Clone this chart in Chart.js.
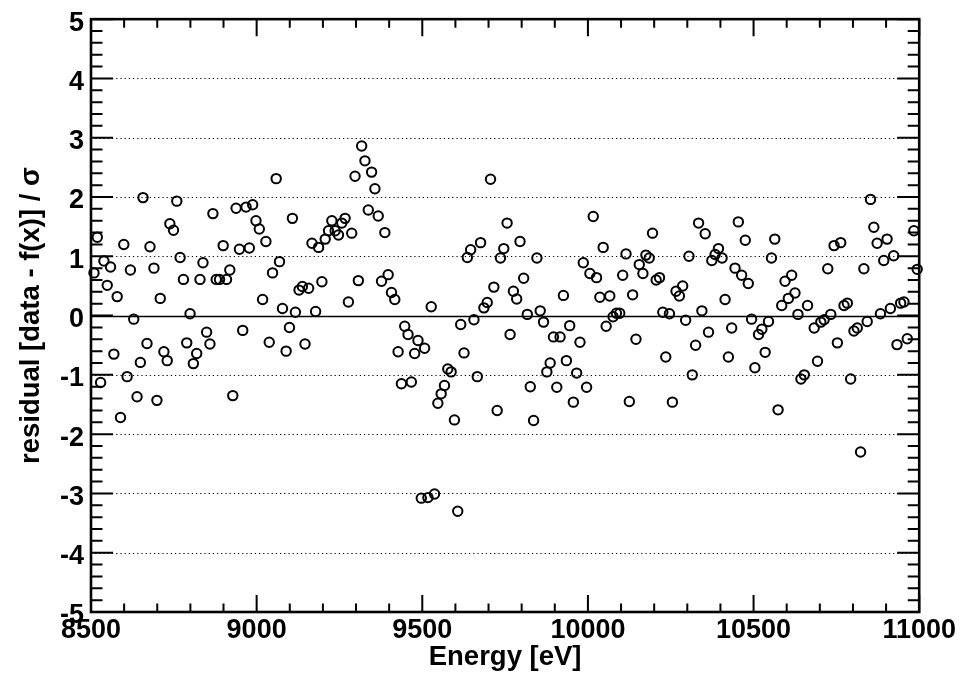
<!DOCTYPE html>
<html>
<head>
<meta charset="utf-8">
<script src="https://cdn.jsdelivr.net/npm/chart.js@4/dist/chart.umd.min.js"></script>
<style>
  html, body { margin: 0; padding: 0; background: #fff; }
  #wrap { width: 961px; height: 674px; position: relative; }
</style>
</head>
<body>
<div id="wrap"><canvas id="c" width="961" height="674"></canvas></div>
<script>
// ---- data ----
const energies = [
  8509, 8519, 8529, 8539, 8549, 8559, 8569, 8579, 8589, 8599,
  8609, 8619, 8629, 8639, 8649, 8657, 8669, 8678, 8690, 8699,
  8709, 8720, 8730, 8738, 8749, 8759, 8769, 8779, 8789, 8799,
  8809, 8819, 8829, 8838, 8849, 8859, 8868, 8878, 8888, 8899,
  8909, 8919, 8928, 8938, 8948, 8958, 8968, 8978, 8988, 8998,
  9008, 9018, 9028, 9038, 9048, 9059, 9069, 9078, 9089, 9099,
  9108, 9117, 9128, 9138, 9146, 9157, 9167, 9178, 9187, 9197,
  9207, 9217, 9227, 9237, 9247, 9257, 9267, 9277, 9287, 9297,
  9307, 9317, 9327, 9337, 9347, 9357, 9367, 9377, 9387, 9397,
  9407, 9417, 9427, 9437, 9447, 9457, 9467, 9477, 9487, 9497,
  9507, 9517, 9527, 9537, 9547, 9557, 9567, 9577, 9587, 9597,
  9607, 9616, 9626, 9636, 9646, 9656, 9666, 9676, 9686, 9696,
  9706, 9716, 9726, 9736, 9746, 9756, 9765, 9775, 9785, 9795,
  9806, 9817, 9826, 9836, 9846, 9856, 9866, 9876, 9886, 9896,
  9906, 9916, 9926, 9935, 9945, 9956, 9966, 9976, 9986, 9996,
  10006, 10016, 10026, 10036, 10046, 10055, 10066, 10076, 10086, 10096,
  10105, 10115, 10125, 10135, 10145, 10155, 10166, 10175, 10185, 10195,
  10206, 10216, 10226, 10235, 10246, 10255, 10266, 10276, 10286, 10295,
  10305, 10315, 10325, 10334, 10344, 10354, 10364, 10374, 10384, 10394,
  10405, 10414, 10424, 10434, 10444, 10454, 10464, 10475, 10484, 10494,
  10504, 10515, 10525, 10535, 10545, 10554, 10564, 10574, 10585, 10595,
  10605, 10615, 10625, 10634, 10643, 10653, 10663, 10683, 10693, 10703,
  10713, 10724, 10733, 10743, 10753, 10763, 10773, 10783, 10793, 10803,
  10813, 10823, 10833, 10843, 10853, 10863, 10873, 10883, 10893, 10903,
  10913, 10923, 10933, 10944, 10954, 10964, 10984, 10994
];
const residuals = [
  0.72, 1.32, -1.13, 0.92, 0.51, 0.82, -0.65, 0.32, -1.72, 1.20,
  -1.03, 0.77, -0.06, -1.37, -0.79, 1.99, -0.47, 1.16, 0.80, -1.43,
  0.29, -0.61, -0.76, 1.55, 1.44, 1.93, 0.98, 0.61, -0.46, 0.03,
  -0.81, -0.64, 0.61, 0.89, -0.28, -0.48, 1.72, 0.61, 0.61, 1.18,
  0.61, 0.77, -1.35, 1.81, 1.12, -0.25, 1.83, 1.14, 1.87, 1.60,
  1.46, 0.27, 1.25, -0.45, 0.72, 2.31, 0.91, 0.12, -0.60, -0.20,
  1.64, 0.055, 0.43, 0.49, -0.48, 0.46, 1.22, 0.07, 1.15, 0.57,
  1.29, 1.43, 1.60, 1.43, 1.36, 1.56, 1.64, 0.23, 1.39, 2.35,
  0.59, 2.86, 2.61, 1.78, 2.42, 2.14, 1.68, 0.58, 1.40, 0.69,
  0.39, 0.27, -0.61, -1.15, -0.18, -0.32, -1.12, -0.64, -0.42, -3.08,
  -0.55, -3.07, 0.15, -3.01, -1.48, -1.32, -1.18, -0.90, -0.95, -1.76,
  -3.30, -0.15, -0.63, 0.98, 1.11, -0.07, -1.03, 1.23, 0.13, 0.22,
  2.30, 0.48, -1.60, 0.97, 1.13, 1.56, -0.32, 0.41, 0.28, 1.25,
  0.63, 0.02, -1.20, -1.77, 0.97, 0.08, -0.11, -0.95, -0.80, -0.36,
  -1.21, -0.36, 0.34, -0.76, -0.17, -1.46, -0.97, -0.45, 0.89, -1.21,
  0.71, 1.67, 0.64, 0.31, 1.15, -0.18, 0.33, -0.02, 0.04, 0.04,
  0.68, 1.04, -1.45, 0.35, -0.40, 0.86, 0.71, 1.02, 0.97, 1.39,
  0.60, 0.64, 0.055, -0.70, 0.03, -1.46, 0.41, 0.33, 0.50, -0.08,
  1.00, -1.00, -0.50, 1.56, 0.08, 1.38, -0.28, 0.93, 1.03, 1.13,
  0.97, 0.27, -0.70, -0.21, 0.80, 1.58, 0.68, 1.27, 0.54, -0.06,
  -0.88, -0.32, -0.23, -0.62, -0.10, 0.97, 1.29, -1.59, 0.17, 0.58,
  0.29, 0.68, 0.38, 0.02, -1.07, -1.00, 0.17, -0.21, -0.77, -0.11,
  -0.07, 0.79, 0.02, 1.18, -0.46, 1.23, 0.17, 0.21, -1.07, -0.26,
  -0.21, -2.30, 0.79, -0.10, 1.96, 1.49, 1.22, 0.03, 0.93, 1.29,
  0.12, 1.01, -0.49, 0.21, 0.23, -0.39, 1.43, 0.78
];
const xRange = [8500, 11000];
const yRange = [-5, 5];
const xMajorStep = 500, xMinorStep = 100;
const yMajorStep = 1, yMinorStep = 0.2;
const xTitle = 'Energy [eV]';
const yTitle = 'residual [data - f(x)] / σ';

const points = energies.map((e, i) => ({ x: e, y: residuals[i] }));
const FONT = '"Liberation Sans", Arial, Helvetica, sans-serif';

const rootFrame = {
  id: 'rootFrame',
  beforeDatasetsDraw(chart) {
    const { ctx, chartArea: a, scales: { x, y } } = chart;
    ctx.save();
    ctx.strokeStyle = '#000';
    ctx.lineWidth = 1.1;
    ctx.setLineDash([1.2, 3]);
    for (let v = yRange[0] + yMajorStep; v < yRange[1]; v += yMajorStep) {
      if (Math.abs(v) < 1e-9) continue;
      const py = Math.round(y.getPixelForValue(v)) + 0.5;
      ctx.beginPath(); ctx.moveTo(a.left, py); ctx.lineTo(a.right, py); ctx.stroke();
    }
    ctx.setLineDash([]);
    ctx.lineWidth = 1.3;
    const p0 = Math.round(y.getPixelForValue(0)) + 0.5;
    ctx.beginPath(); ctx.moveTo(a.left, p0); ctx.lineTo(a.right, p0); ctx.stroke();
    ctx.restore();
  },
  afterDraw(chart) {
    const { ctx, chartArea: a, scales: { x, y } } = chart;
    ctx.save();
    ctx.strokeStyle = '#000';
    ctx.lineWidth = 2;
    for (let v = xRange[0]; v <= xRange[1] + 1e-6; v += xMinorStep) {
      const px = x.getPixelForValue(v);
      const major = Math.abs((v - xRange[0]) % xMajorStep) < 1e-6;
      const len = major ? 17 : 8.5;
      ctx.beginPath();
      ctx.moveTo(px, a.bottom); ctx.lineTo(px, a.bottom - len);
      ctx.moveTo(px, a.top); ctx.lineTo(px, a.top + len);
      ctx.stroke();
    }
    for (let k = 0; k <= Math.round((yRange[1] - yRange[0]) / yMinorStep); k++) {
      const v = yRange[0] + k * yMinorStep;
      const py = y.getPixelForValue(v);
      const major = k % Math.round(yMajorStep / yMinorStep) === 0;
      const len = major ? 22 : 11.5;
      ctx.beginPath();
      ctx.moveTo(a.left, py); ctx.lineTo(a.left + len, py);
      ctx.moveTo(a.right, py); ctx.lineTo(a.right - len, py);
      ctx.stroke();
    }
    ctx.lineWidth = 2.6;
    ctx.strokeRect(a.left, a.top, a.right - a.left, a.bottom - a.top);
    ctx.restore();
  }
};

new Chart(document.getElementById('c'), {
  type: 'scatter',
  data: {
    datasets: [{
      data: points,
      showLine: false,
      pointStyle: 'circle',
      pointRadius: 4.7,
      pointHoverRadius: 4.7,
      pointBorderWidth: 2,
      borderColor: '#000',
      backgroundColor: 'rgba(0,0,0,0)',
      clip: false
    }]
  },
  options: {
    responsive: false,
    animation: false,
    events: [],
    layout: { padding: { top: 13, right: 39, left: 0, bottom: 0 } },
    plugins: { legend: { display: false }, tooltip: { enabled: false } },
    scales: {
      x: {
        type: 'linear',
        min: xRange[0], max: xRange[1],
        grid: { display: false, drawTicks: false },
        border: { display: false },
        ticks: {
          stepSize: xMajorStep,
          padding: 5,
          color: '#000',
          maxRotation: 0,
          font: { family: FONT, size: 27, weight: 'bold', lineHeight: 1 },
          callback: v => String(v)
        },
        title: {
          display: true, text: xTitle, color: '#000',
          font: { family: FONT, size: 27.5, weight: 'bold', lineHeight: 1.2 },
          padding: { top: 0, bottom: 0 }
        },
        afterFit: s => { s.height = 62; }
      },
      y: {
        type: 'linear',
        min: yRange[0], max: yRange[1],
        grid: { display: false, drawTicks: false },
        border: { display: false },
        ticks: {
          stepSize: yMajorStep,
          padding: 7,
          labelOffset: 4,
          color: '#000',
          font: { family: FONT, size: 27, weight: 'bold', lineHeight: 0.9 },
          callback: v => String(v)
        },
        title: {
          display: true, text: yTitle, color: '#000',
          font: { family: FONT, size: 27.5, weight: 'bold', lineHeight: 1.2 },
          padding: { top: 15, bottom: 0 }
        },
        afterFit: s => { s.width = 91; }
      }
    }
  },
  plugins: [rootFrame]
});
</script>
</body>
</html>
